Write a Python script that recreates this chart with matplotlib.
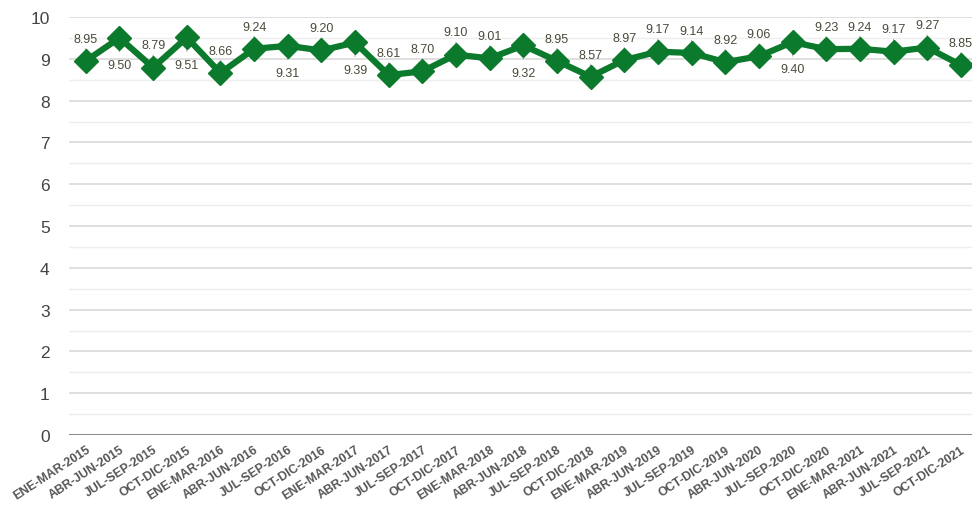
import matplotlib
matplotlib.use("Agg")
import matplotlib.pyplot as plt
from matplotlib.ticker import MultipleLocator

categories = ["ENE-MAR-2015", "ABR-JUN-2015", "JUL-SEP-2015", "OCT-DIC-2015",
              "ENE-MAR-2016", "ABR-JUN-2016", "JUL-SEP-2016", "OCT-DIC-2016",
              "ENE-MAR-2017", "ABR-JUN-2017", "JUL-SEP-2017", "OCT-DIC-2017",
              "ENE-MAR-2018", "ABR-JUN-2018", "JUL-SEP-2018", "OCT-DIC-2018",
              "ENE-MAR-2019", "ABR-JUN-2019", "JUL-SEP-2019", "OCT-DIC-2019",
              "ABR-JUN-2020", "JUL-SEP-2020", "OCT-DIC-2020",
              "ENE-MAR-2021", "ABR-JUN-2021", "JUL-SEP-2021", "OCT-DIC-2021"]
values = [8.95, 9.50, 8.79, 9.51, 8.66, 9.24, 9.31, 9.20, 9.39, 8.61, 8.70, 9.10,
          9.01, 9.32, 8.95, 8.57, 8.97, 9.17, 9.14, 8.92, 9.06, 9.40, 9.23, 9.24,
          9.17, 9.27, 8.85]
y_ticks = [0, 1, 2, 3, 4, 5, 6, 7, 8, 9, 10]

# label placement style: True = below the point
below = [False, True, False, True, False, False, True, False, True, False, False, False,
         False, True, False, False, False, False, False, False, False, True, False, False,
         False, False, False]

plt.rcParams['font.family'] = ['Liberation Sans', 'DejaVu Sans']

W, H = 972, 506
fig = plt.figure(figsize=(W / 100, H / 100), dpi=100)
left = 69 / W
ax = fig.add_axes([left, 1 - 436 / H, 1 - left, (436 - 18) / H])

green = "#0c7a2c"
x = list(range(len(values)))
spacing = (961 - 86) / 26
ax.set_xlim(-0.5, -0.5 + (W - 69) / spacing)
ax.set_ylim(0, 10)

ax.yaxis.set_minor_locator(MultipleLocator(0.5))
ax.set_yticks(y_ticks)
ax.grid(axis='y', which='major', color='#d9d9d9', linewidth=1.2)
ax.grid(axis='y', which='minor', color='#eeeeee', linewidth=1.0)
ax.set_axisbelow(True)
for s in ax.spines.values():
    s.set_visible(False)
ax.axhline(0, color='#6e6e6e', linewidth=1.8, zorder=2)

ax.plot(x, values, color=green, linewidth=4.5, marker='D', markersize=12,
        markeredgecolor=green, markerfacecolor=green, zorder=4, clip_on=False)

for xi, v, b in zip(x, values, below):
    if b:
        ax.annotate("", xy=(xi, v), xytext=(0, -12), textcoords='offset points',
                    arrowprops=dict(arrowstyle='-', color='#aaaaaa', lw=0.8), zorder=3)
        ax.annotate(f"{v:.2f}", xy=(xi, v), xytext=(0, -19.5), textcoords='offset points',
                    ha='center', va='center', fontsize=9, color='#4a4a3a', zorder=5)
    else:
        ax.annotate("", xy=(xi, v), xytext=(0, 11), textcoords='offset points',
                    arrowprops=dict(arrowstyle='-', color='#aaaaaa', lw=0.8), zorder=3)
        ax.annotate(f"{v:.2f}", xy=(xi, v), xytext=(0, 16), textcoords='offset points',
                    ha='center', va='center', fontsize=9, color='#4a4a3a', zorder=5)

ax.set_xticks(x)
ax.set_xticklabels(categories, rotation=33, ha='right', rotation_mode='anchor',
                   fontsize=8.8, fontweight='bold', color='#555555')
ax.tick_params(axis='x', length=0, pad=6)
ax.tick_params(axis='y', which='both', length=0, pad=14, labelsize=12.5, labelcolor='#444444')

fig.savefig("out.png", dpi=100)
